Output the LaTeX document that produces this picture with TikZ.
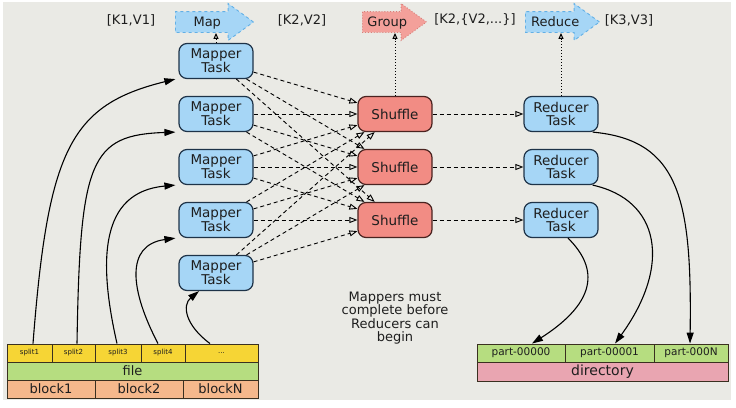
\documentclass[tikz,border=0pt]{standalone}
\usepackage{fontspec}
\setmainfont{DejaVu Sans}
\usetikzlibrary{shapes.arrows,arrows.meta}

\definecolor{bgGray}{HTML}{EAEAE5}
\definecolor{taskBlue}{HTML}{A6D6F6}
\definecolor{taskLine}{HTML}{1E3348}
\definecolor{shufRed}{HTML}{F28C84}
\definecolor{shufLine}{HTML}{4A2320}
\definecolor{grpRed}{HTML}{F3A09A}
\definecolor{grpLine}{HTML}{D9807A}
\definecolor{mapLine}{HTML}{62B0E6}
\definecolor{splitYel}{HTML}{F6D535}
\definecolor{fileGrn}{HTML}{B6DD80}
\definecolor{blockOra}{HTML}{F5B88C}
\definecolor{dirPink}{HTML}{E9A5B1}
\definecolor{cellLine}{HTML}{3A3020}
\definecolor{txtGray}{HTML}{1E1E1E}

\begin{document}
\begin{tikzpicture}[x=1pt,y=-1pt,
  task/.style={draw=taskLine,fill=taskBlue,line width=1.2pt,rounded corners=8pt,
    minimum width=74pt,minimum height=35pt,align=center,inner sep=0pt,
    font=\fontsize{13.5}{13}\selectfont,text=txtGray},
  shuf/.style={task,fill=shufRed,draw=shufLine},
  stage/.style={single arrow,single arrow head extend=8pt,single arrow tip angle=72,
    inner xsep=2pt,inner ysep=5pt,text height=9pt,text depth=1pt,
    font=\fontsize{13}{13}\selectfont,text=txtGray,anchor=tail,line width=0.9pt},
  kv/.style={font=\fontsize{13}{13}\selectfont,text=txtGray},
  cell/.style={draw=cellLine,line width=0.9pt,inner sep=0pt,minimum height=18pt,text=txtGray},
  split/.style={cell,fill=splitYel,font=\fontsize{7}{7}\selectfont},
  block/.style={cell,fill=blockOra,font=\fontsize{13}{13}\selectfont},
  part/.style={cell,fill=fileGrn,font=\fontsize{10.5}{10.5}\selectfont},
  flow/.style={-{Triangle[length=11pt,width=7pt]},line width=1.1pt},
  shuffleflow/.style={-{Triangle[open,length=8pt,width=6pt]},dash pattern=on 4pt off 3pt,line width=0.9pt},
  stageflow/.style={-{Triangle[open,length=6pt,width=5pt]},dotted,line width=1pt}
  ]
  \useasboundingbox (0,0) rectangle (736,407);
  \fill[white] (0,0) rectangle (736,407);
  \fill[bgGray] (3,2) rectangle (731,400);

  % stages along the top
  \node[stage,fill=taskBlue,draw=mapLine,dashed,minimum height=78pt] (Map) at (175,22) {Map};
  \node[stage,fill=grpRed,draw=grpLine,dotted,minimum height=64pt] (Group) at (362,22) {Group};
  \node[stage,fill=taskBlue,draw=mapLine,dashed,minimum height=74pt] (Reduce) at (525,22) {Reduce};
  \node[kv] (KV1) at (131,20) {[K1,V1]};
  \node[kv] (KV2) at (302,20) {[K2,V2]};
  \node[kv] (KV3) at (475,20) {[K2,\{V2,...\}]};
  \node[kv] (KV4) at (629,20) {[K3,V3]};

  % tasks
  \node[task] (M1) at (216,61) {Mapper\\Task};
  \node[task] (M2) at (216,114) {Mapper\\Task};
  \node[task] (M3) at (216,167) {Mapper\\Task};
  \node[task] (M4) at (216,220) {Mapper\\Task};
  \node[task] (M5) at (216,273) {Mapper\\Task};
  \node[shuf] (S1) at (395,114) {Shuffle};
  \node[shuf] (S2) at (395,167) {Shuffle};
  \node[shuf] (S3) at (395,220) {Shuffle};
  \node[task] (R1) at (561,114) {Reducer\\Task};
  \node[task] (R2) at (561,167) {Reducer\\Task};
  \node[task] (R3) at (561,220) {Reducer\\Task};

  \node[kv,align=center,font=\fontsize{13}{13.3}\selectfont] (Note) at (395,318)
    {Mappers must\\complete before\\Reducers can\\begin};

  % input file
  \node[split,minimum width=45pt] (Split1) at (29.5,353) {split1};
  \node[split,minimum width=43pt] (Split2) at (73.5,353) {split2};
  \node[split,minimum width=46pt] (Split3) at (118,353) {split3};
  \node[split,minimum width=44pt] (Split4) at (163,353) {split4};
  \node[split,minimum width=73pt] (SplitN) at (221.5,353) {...};
  \node[cell,fill=fileGrn,minimum width=251pt,font=\fontsize{13}{13}\selectfont] (File) at (132.5,371) {file};
  \node[block,minimum width=88pt] (Block1) at (51,389) {block1};
  \node[block,minimum width=88pt] (Block2) at (139,389) {block2};
  \node[block,minimum width=75pt] (BlockN) at (220.5,389) {blockN};

  % output directory
  \node[part,minimum width=88pt] (Part0) at (521,353) {part-00000};
  \node[part,minimum width=89pt] (Part1) at (609.5,353) {part-00001};
  \node[part,minimum width=74pt] (PartN) at (691,353) {part-000N};
  \node[cell,fill=dirPink,minimum width=251pt,minimum height=19pt,font=\fontsize{14}{14}\selectfont] (Dir) at (602.5,371.5) {directory};

  \draw[stageflow] (M1.north) -- (M1.north |- Map.south);
  \draw[stageflow] (S1.north) -- (S1.north |- Group.south);
  \draw[stageflow] (R1.north) -- (R1.north |- Reduce.south);

  \path[shuffleflow]
  (M1) edge (S1)  (M1) edge (S2)  (M1) edge (S3)
  (M2) edge (S1)  (M2) edge (S2)  (M2) edge (S3)
  (M3) edge (S1)  (M3) edge (S2)  (M3) edge (S3)
  (M4) edge (S1)  (M4) edge (S2)  (M4) edge (S3)
  (M5) edge (S1)  (M5) edge (S2)  (M5) edge (S3)
  (S1) edge (R1)  (S2) edge (R2)  (S3) edge (R3)
  ;

  \draw[flow] ([xshift=3.5pt]Split1.north) .. controls (48,150) and (70,105) .. ([xshift=-3pt]M1.south west);
  \draw[flow] ([xshift=3.5pt]Split2.north) .. controls (80,160) and (90,135) .. ([xshift=-3pt]M2.south west);
  \draw[flow] ([xshift=-1pt]Split3.north) .. controls (98,260) and (100,192) .. ([xshift=-3pt]M3.south west);
  \draw[flow] ([xshift=-5pt]Split4.north) .. controls (130,290) and (125,245) .. ([xshift=-3pt]M4.south west);
  \draw[flow] ([xshift=-11.5pt]SplitN.north) .. controls (185,325) and (182,305) .. ([xshift=-17pt]M5.south);

  \draw[flow] ([xshift=-6pt]R1.south east) .. controls (680,140) and (692,200) .. ([xshift=-1pt]PartN.north);
  \draw[flow] ([xshift=-6pt]R2.south east) .. controls (660,200) and (672,265) .. ([xshift=5.5pt]Part1.north);
  \draw[flow] ([xshift=7pt]R3.south) .. controls (590,260) and (608,295) .. ([xshift=11pt]Part0.north);
\end{tikzpicture}
\end{document}
